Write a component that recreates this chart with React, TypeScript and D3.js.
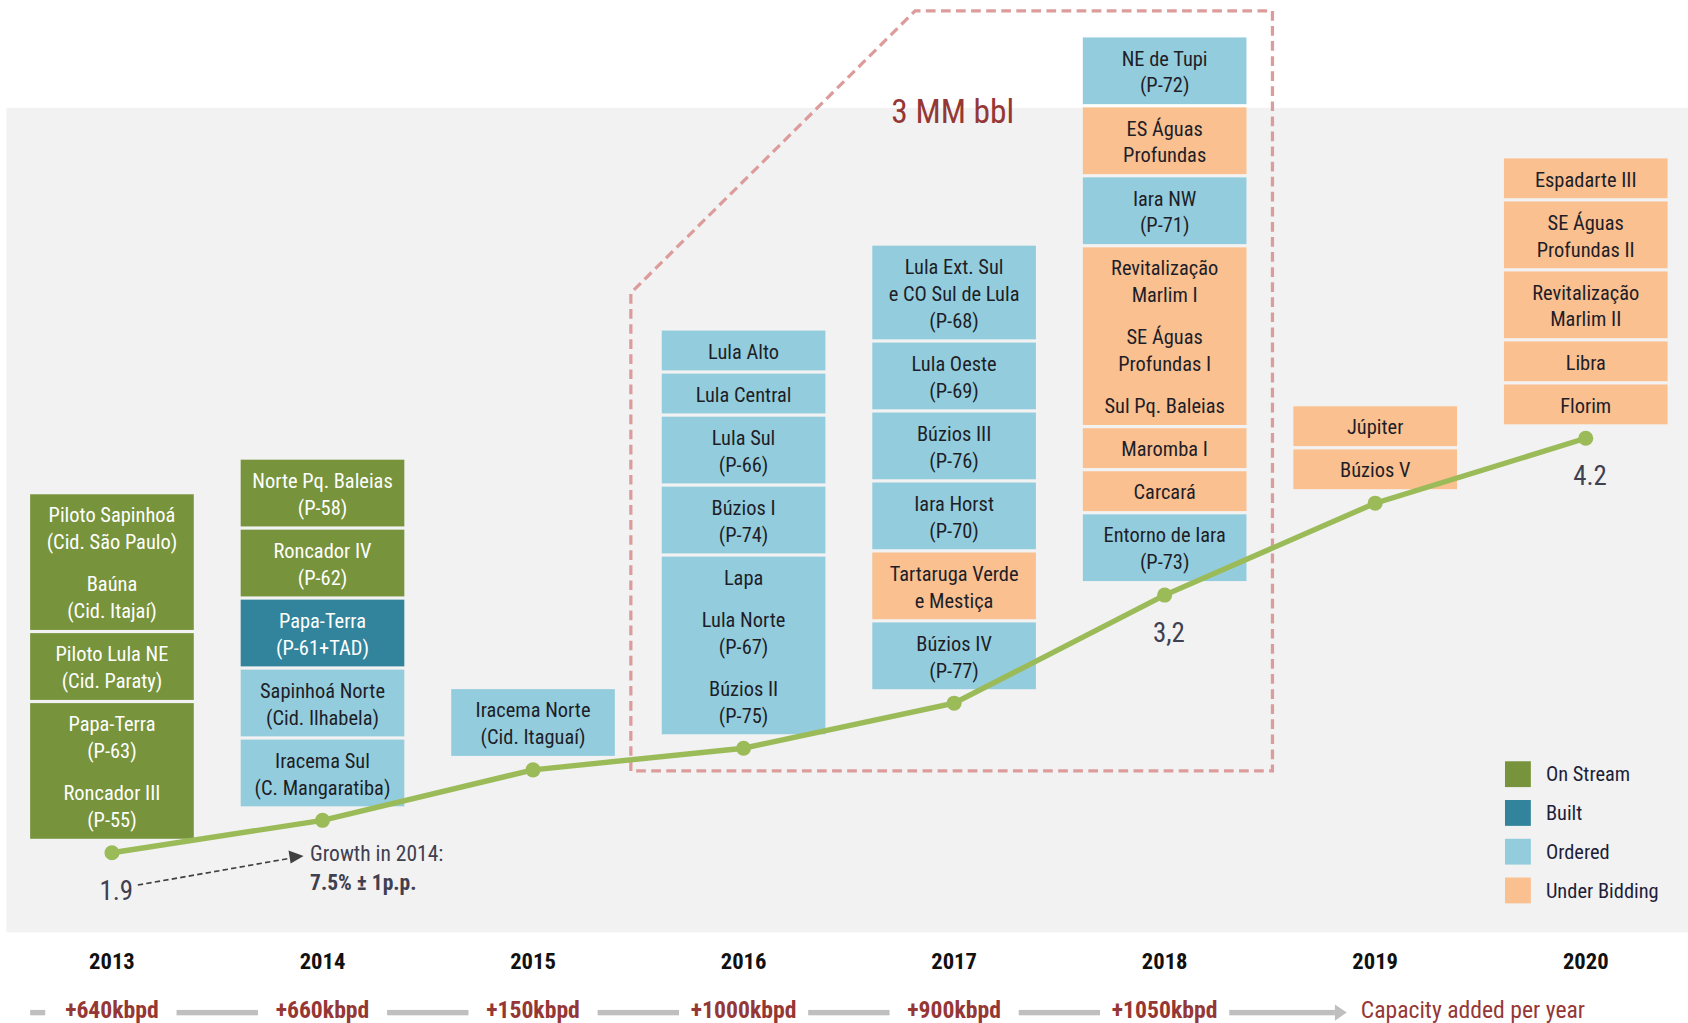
import React from 'react';
import * as d3 from 'd3';

// years on the x axis
const years = ['2013', '2014', '2015', '2016', '2017', '2018', '2019', '2020'];
// production curve (MM bbl/d) as read from the point positions
const production = [1.9, 2.08, 2.36, 2.48, 2.73, 3.33, 3.84, 4.2];
// labels printed next to some of the points
const pointLabels = ['1.9', '', '', '', '', '3,2', '', '4.2'];
// capacity added per year (kbpd)
const capacityAdded = [640, 660, 150, 1000, 900, 1050];

const statuses = ['On Stream', 'Built', 'Ordered', 'Under Bidding'];
const statusColors = ['#77933c', '#31849b', '#93cddd', '#fac090'];
const statusText = ['#ffffff', '#ffffff', '#1e1e28', '#1e1e28'];

// projects per year, top to bottom. each box: status index + entries (lines)
const projects2013 = [
  { s: 0, e: [['Piloto Sapinhoá', '(Cid. São Paulo)'], ['Baúna', '(Cid. Itajaí)']] },
  { s: 0, e: [['Piloto Lula NE', '(Cid. Paraty)']] },
  { s: 0, e: [['Papa-Terra', '(P-63)'], ['Roncador III', '(P-55)']] },
];
const projects2014 = [
  { s: 0, e: [['Norte Pq. Baleias', '(P-58)']] },
  { s: 0, e: [['Roncador IV', '(P-62)']] },
  { s: 1, e: [['Papa-Terra', '(P-61+TAD)']] },
  { s: 2, e: [['Sapinhoá Norte', '(Cid. Ilhabela)']] },
  { s: 2, e: [['Iracema Sul', '(C. Mangaratiba)']] },
];
const projects2015 = [
  { s: 2, e: [['Iracema Norte', '(Cid. Itaguaí)']] },
];
const projects2016 = [
  { s: 2, e: [['Lula Alto']] },
  { s: 2, e: [['Lula Central']] },
  { s: 2, e: [['Lula Sul', '(P-66)']] },
  { s: 2, e: [['Búzios I', '(P-74)']] },
  { s: 2, e: [['Lapa'], ['Lula Norte', '(P-67)'], ['Búzios II', '(P-75)']] },
];
const projects2017 = [
  { s: 2, e: [['Lula Ext. Sul', 'e CO Sul de Lula', '(P-68)']] },
  { s: 2, e: [['Lula Oeste', '(P-69)']] },
  { s: 2, e: [['Búzios III', '(P-76)']] },
  { s: 2, e: [['Iara Horst', '(P-70)']] },
  { s: 3, e: [['Tartaruga Verde', 'e Mestiça']] },
  { s: 2, e: [['Búzios IV', '(P-77)']] },
];
const projects2018 = [
  { s: 2, e: [['NE de Tupi', '(P-72)']] },
  { s: 3, e: [['ES Águas', 'Profundas']] },
  { s: 2, e: [['Iara NW', '(P-71)']] },
  { s: 3, e: [['Revitalização', 'Marlim I'], ['SE Águas', 'Profundas I'], ['Sul Pq. Baleias']] },
  { s: 3, e: [['Maromba I']] },
  { s: 3, e: [['Carcará']] },
  { s: 2, e: [['Entorno de Iara', '(P-73)']] },
];
const projects2019 = [
  { s: 3, e: [['Júpiter']] },
  { s: 3, e: [['Búzios V']] },
];
const projects2020 = [
  { s: 3, e: [['Espadarte III']] },
  { s: 3, e: [['SE Águas', 'Profundas II']] },
  { s: 3, e: [['Revitalização', 'Marlim II']] },
  { s: 3, e: [['Libra']] },
  { s: 3, e: [['Florim']] },
];
const projectsByYear = [projects2013, projects2014, projects2015, projects2016,
  projects2017, projects2018, projects2019, projects2020];

const W = 1568;
const H = 950;
const font = "'Liberation Sans Narrow', 'Arial Narrow', 'Roboto Condensed', 'DejaVu Sans Condensed', sans-serif";
const lineH = 25;
const boxW = 152;
const gap = 3;

const entryHeight = (lines: string[]) => lines.length * lineH + 14;

export default function App() {
  const x = d3.scalePoint<string>().domain(years).range([104, 1473]);
  const y = d3.scaleLinear().domain([1.9, 4.2]).range([792, 407]);

  const line = d3.line<number>()
    .x((d, i) => x(years[i]) as number)
    .y(d => y(d));

  // stack boxes upwards from just above each point
  const stacks = projectsByYear.map((boxes, i) => {
    const cx = x(years[i]) as number;
    let bottom = y(production[i]) - 13;
    const placed: any[] = [];
    for (let b = boxes.length - 1; b >= 0; b--) {
      const box = boxes[b];
      const h = d3.sum(box.e, (en: string[]) => entryHeight(en)) - 2;
      const top = bottom - h;
      let t = top;
      const texts: { ty: number; txt: string }[] = [];
      box.e.forEach((en: string[]) => {
        en.forEach((txt, k) => texts.push({ ty: t + 7 + lineH / 2 + k * lineH, txt }));
        t += entryHeight(en);
      });
      placed.push({ cx, top, h, s: box.s, texts });
      bottom = top - gap;
    }
    return placed;
  });

  const bracket = [[586, 716], [586, 272], [850, 10], [1182, 10], [1182, 716]];

  return (
    <svg width={1688} height={1023} viewBox={`0 0 ${W} ${H}`}
      style={{ position: 'absolute', left: 0, top: 0, display: 'block', background: '#fff' }}
      fontFamily={font}>
      <rect x={6} y={100} width={W - 6} height={766} fill="#f2f2f2" />

      {stacks.map((boxes, i) => (
        <g key={years[i]}>
          {boxes.map((b: any, j: number) => (
            <g key={j}>
              <rect x={b.cx - boxW / 2} y={b.top} width={boxW} height={b.h} fill={statusColors[b.s]} />
              {b.texts.map((t: any, k: number) => (
                <text key={k} x={b.cx} y={t.ty} dy="0.35em" textAnchor="middle"
                  fontSize={19} fill={statusText[b.s]}>{t.txt}</text>
              ))}
            </g>
          ))}
        </g>
      ))}

      <path d={d3.line()(bracket as [number, number][]) + 'Z'} fill="none" stroke="#dd9c9c"
        strokeWidth={3} strokeDasharray="9 5" />
      <text x={885} y={103} dy="0.35em" textAnchor="middle" fontSize={31} fill="#953735">3 MM bbl</text>

      <path d={line(production) as string} fill="none" stroke="#9bbb59" strokeWidth={5} />
      {production.map((v, i) => (
        <circle key={i} cx={x(years[i])} cy={y(v)} r={7} fill="#9bbb59" />
      ))}
      {production.map((v, i) => pointLabels[i] && (
        <text key={'l' + i} x={(x(years[i]) as number) + 4} y={y(v) + 35} dy="0.35em"
          textAnchor="middle" fontSize={25} fill="#3f4050">{pointLabels[i]}</text>
      ))}

      {/* growth annotation */}
      <line x1={128} y1={822} x2={270} y2={797} stroke="#404040" strokeWidth={1.5} strokeDasharray="5 3" />
      <path d="M282,795 L268,790 L270,802 Z" fill="#404040" />
      <text x={288} y={793} dy="0.35em" fontSize={20} fill="#3f4050">Growth in 2014:</text>
      <text x={288} y={820} dy="0.35em" fontSize={20} fontWeight="bold" fill="#3f4050">7.5% ± 1p.p.</text>

      {/* legend */}
      {statuses.map((s, i) => (
        <g key={s} transform={`translate(1398,${707 + i * 36})`}>
          <rect width={24} height={24} fill={statusColors[i]} />
          <text x={38} y={12} dy="0.35em" fontSize={19} fill="#1e1e3a">{s}</text>
        </g>
      ))}

      {/* year axis */}
      {years.map(yr => (
        <text key={yr} x={x(yr)} y={893} dy="0.35em" textAnchor="middle" fontSize={21}
          fontWeight="bold" fill="#111">{yr}</text>
      ))}

      {/* capacity added row */}
      <rect x={28} y={938} width={14} height={5} fill="#bfbfbf" />
      {capacityAdded.map((c, i) => {
        const cx = x(years[i]) as number;
        const next = i < capacityAdded.length - 1 ? (x(years[i + 1]) as number) - 60 : 1240;
        return (
          <g key={i}>
            <text x={cx} y={938} dy="0.35em" textAnchor="middle" fontSize={22} fontWeight="bold"
              fill="#953735">{`+${c}kbpd`}</text>
            <rect x={cx + 60} y={938} width={next - cx - 60} height={5} fill="#bfbfbf" />
          </g>
        );
      })}
      <path d="M1240,933 L1251,940.5 L1240,948 Z" fill="#bfbfbf" />
      <text x={1264} y={938} dy="0.35em" fontSize={22} fill="#953735">Capacity added per year</text>
    </svg>
  );
}
